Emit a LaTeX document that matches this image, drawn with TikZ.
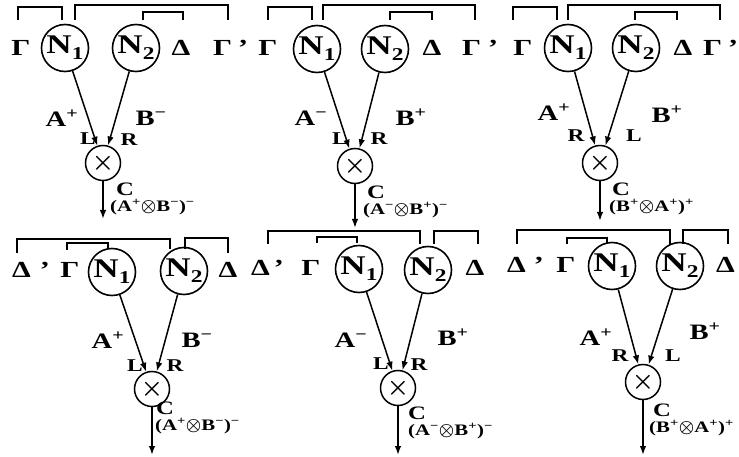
\documentclass[tikz,border=0pt]{standalone}
\usepackage{fontspec}
\setmainfont{Liberation Serif}[FakeStretch=1.3]
\usetikzlibrary{arrows.meta}
\newcommand\Nsub[1]{N\raisebox{-6pt}{\fontsize{18}{18}\selectfont #1}}
\newcommand\sps[1]{\textsuperscript{#1}}
\newcommand\ot{{\fontsize{19}{19}\selectfont\boldmath$\otimes$}}
\tikzset{
  every node/.style={inner sep=0pt},
  nn/.style={circle, draw, line width=1.6pt, minimum size=47pt, font=\bfseries\fontsize{27}{27}\selectfont},
  xx/.style={circle, draw, line width=1.5pt, minimum size=35pt, font=\fontsize{27}{27}\selectfont\boldmath},
  sym/.style={font=\bfseries\fontsize{23}{23}\selectfont},
  lab/.style={font=\bfseries\fontsize{22}{22}\selectfont},
  lr/.style={font=\bfseries\fontsize{18}{18}\selectfont},
  cc/.style={anchor=west, font=\bfseries\fontsize{19}{19}\selectfont},
  ex/.style={anchor=north west, font=\bfseries\fontsize{16}{16}\selectfont},
  con/.style={line width=1.5pt, -{Latex[length=9pt,width=6.5pt]}},
  brk/.style={line width=1.5pt},
}
\begin{document}
\begin{tikzpicture}[x=1pt, y=-1pt]
\useasboundingbox (0,0) rectangle (739,457);
% ---------- Panel 1 ----------
\node[sym] (g1) at (21,48) {Γ};
\node[nn] (n11) at (65,48) {\Nsub1};
\node[nn] (n12) at (136,48) {\Nsub2};
\node[sym] (d1) at (181,48) {Δ};
\node[sym, anchor=west] (gp1) at (213,48) {Γ\hspace{6pt}’};
\node[xx] (x1) at (103,163) {$\times$};
\coordinate (e1) at (103,219);
\draw[con] (n11) -- (x1);
\draw[con] (n12) -- (x1);
\draw[con] (x1) -- (e1);
\node[lab] (a1) at (62,118) {A\sps{+}};
\node[lab] (b1) at (151,118) {B\sps{−}};
\node[lr] (l1) at (88,139) {L};
\node[lr] (r1) at (129,140) {R};
\node[cc] (c1) at (116,189) {C};
\node[ex] (t1) at ([xshift=-6pt, yshift=-3pt]c1.south west) {(A\sps{+}\ot B\sps{−})\sps{−}};
\draw[brk] (18,20) |- (62,7) -- (62,20);
\draw[brk] (75,20) |- (228,5) -- (228,20);
\draw[brk] (143,20) |- (183,12) -- (183,20);
% ---------- Panel 2 ----------
\node[sym] (g2) at (268,48) {Γ};
\node[nn] (n21) at (317,49) {\Nsub1};
\node[nn] (n22) at (385,49) {\Nsub2};
\node[sym] (d2) at (432,48) {Δ};
\node[sym, anchor=west] (gp2) at (462,48) {Γ\hspace{7pt}’};
\node[xx] (x2) at (355,166) {$\times$};
\coordinate (e2) at (355,228);
\draw[con] (n21) -- (x2);
\draw[con] (n22) -- (x2);
\draw[con] (x2) -- (e2);
\node[lab] (a2) at (311,118) {A\sps{−}};
\node[lab] (b2) at (411,117) {B\sps{+}};
\node[lr] (l2) at (340,139) {L};
\node[lr] (r2) at (379,139) {R};
\node[cc] (c2) at (367,192) {C};
\node[ex] (t2) at ([xshift=-4pt, yshift=-3pt]c2.south west) {(A\sps{−}\ot B\sps{+})\sps{−}};
\draw[brk] (268,20) |- (312,7) -- (312,20);
\draw[brk] (323,20) |- (475,5) -- (475,20);
\draw[brk] (390,20) |- (432,12) -- (432,20);
% ---------- Panel 3 ----------
\node[sym] (g3) at (523,48) {Γ};
\node[nn] (n31) at (568,48) {\Nsub1};
\node[nn] (n32) at (636,48) {\Nsub2};
\node[sym] (d3) at (683,48) {Δ};
\node[sym, anchor=west] (gp3) at (703,48) {Γ\hspace{6pt}’};
\node[xx] (x3) at (600,163) {$\times$};
\coordinate (e3) at (600,221);
\draw[con] (n31) -- (x3);
\draw[con] (n32) -- (x3);
\draw[con] (x3) -- (e3);
\node[lab] (a3) at (554,112) {A\sps{+}};
\node[lab] (b3) at (667,114) {B\sps{+}};
\node[lr] (r3) at (576,136) {R};
\node[lr] (l3) at (634,136) {L};
\node[cc] (c3) at (612,189) {C};
\node[ex] (t3) at ([xshift=-3pt, yshift=-3pt]c3.south west) {(B\sps{+}\ot A\sps{+})\sps{+}};
\draw[brk] (513,20) |- (557,7) -- (557,20);
\draw[brk] (568,20) |- (720,5) -- (720,20);
\draw[brk] (635,20) |- (677,12) -- (677,20);
% ---------- Panel 4 ----------
\node[sym, anchor=west] (dp4) at (12,270) {Δ\hspace{9pt}’};
\node[sym] (g4) at (70,270) {Γ};
\node[nn] (n41) at (112,272) {\Nsub1};
\node[nn] (n42) at (184,271) {\Nsub2};
\node[sym] (d4) at (228,270) {Δ};
\node[xx] (x4) at (152,389) {$\times$};
\coordinate (e4) at (152,455);
\draw[con] (n41) -- (x4);
\draw[con] (n42) -- (x4);
\draw[con] (x4) -- (e4);
\node[lab] (a4) at (108,340) {A\sps{+}};
\node[lab] (b4) at (197,340) {B\sps{−}};
\node[lr] (l4) at (135,366) {L};
\node[lr] (r4) at (175,366) {R};
\node[cc] (c4) at (156,408) {C};
\node[ex] (t4) at ([xshift=-1pt, yshift=-3pt]c4.south west) {(A\sps{+}\ot B\sps{−})\sps{−}};
\draw[brk] (17,253) |- (170,239) -- (170,249);
\draw[brk] (185,249) |- (228,238) -- (228,253);
\draw[brk] (67,250) |- (108,243) -- (108,249);
% ---------- Panel 5 ----------
\node[sym, anchor=west] (dp5) at (251,268) {Δ\hspace{4pt}’};
\node[sym] (g5) at (311,268) {Γ};
\node[nn] (n51) at (359,269) {\Nsub1};
\node[nn] (n52) at (428,270) {\Nsub2};
\node[sym] (d5) at (475,268) {Δ};
\node[xx] (x5) at (398,388) {$\times$};
\coordinate (e5) at (398,455);
\draw[con] (n51) -- (x5);
\draw[con] (n52) -- (x5);
\draw[con] (x5) -- (e5);
\node[lab] (a5) at (351,340) {A\sps{−}};
\node[lab] (b5) at (453,337) {B\sps{+}};
\node[lr] (l5) at (381,364) {L};
\node[lr] (r5) at (419,365) {R};
\node[cc] (c5) at (408,413) {C};
\node[ex] (t5) at ([yshift=-3pt]c5.south west) {(A\sps{−}\ot B\sps{+})\sps{−}};
\draw[brk] (268,244) |- (420,231) -- (420,244);
\draw[brk] (434,244) |- (478,231) -- (478,244);
\draw[brk] (317,243) |- (357,237) -- (357,243);
% ---------- Panel 6 ----------
\node[sym, anchor=west] (dp6) at (507,265) {Δ\hspace{8pt}’};
\node[sym] (g6) at (566,265) {Γ};
\node[nn] (n61) at (612,266) {\Nsub1};
\node[nn] (n62) at (680,266) {\Nsub2};
\node[sym, anchor=west] (d6) at (716,265) {Δ};
\node[xx] (x6) at (643,382) {$\times$};
\coordinate (e6) at (643,455);
\draw[con] (n61) -- (x6);
\draw[con] (n62) -- (x6);
\draw[con] (x6) -- (e6);
\node[lab] (a6) at (596,337) {A\sps{+}};
\node[lab] (b6) at (705,331) {B\sps{+}};
\node[lr] (r6) at (620,356) {R};
\node[lr] (l6) at (673,356) {L};
\node[cc] (c6) at (653,410) {C};
\node[ex] (t6) at ([xshift=-4pt, yshift=-3pt]c6.south west) {(B\sps{+}\ot A\sps{+})\sps{+}};
\draw[brk] (517,244) |- (670,230) -- (670,244);
\draw[brk] (683,244) |- (728,230) -- (728,244);
\draw[brk] (567,244) |- (607,238) -- (607,244);
\end{tikzpicture}
\end{document}
